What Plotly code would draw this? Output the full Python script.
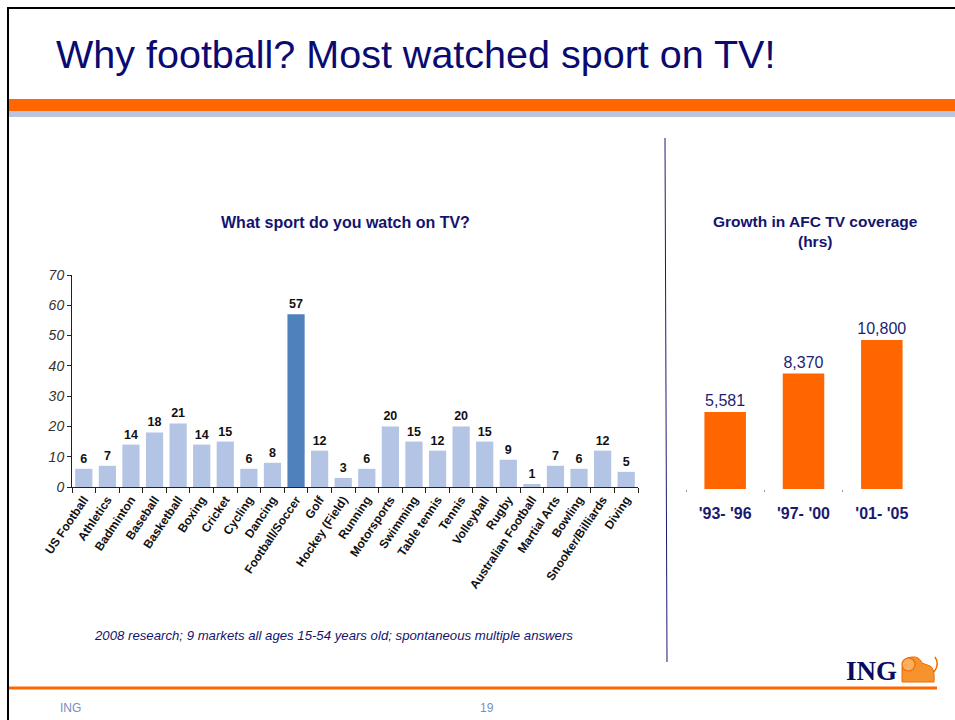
import plotly.graph_objects as go

# ---- data ----
sports = ["US Football", "Athletics", "Badminton", "Baseball", "Basketball", "Boxing",
          "Cricket", "Cycling", "Dancing", "Football/Soccer", "Golf", "Hockey (Field)",
          "Running", "Motorsports", "Swimming", "Table tennis", "Tennis", "Volleyball",
          "Rugby", "Australian Football", "Martial Arts", "Bowling", "Snooker/Billiards", "Diving"]
watch_share = [6, 7, 14, 18, 21, 14, 15, 6, 8, 57, 12, 3, 6, 20, 15, 12, 20, 15, 9, 1, 7, 6, 12, 5]
y_ticks_left = [0, 10, 20, 30, 40, 50, 60, 70]

periods = ["'93- '96", "'97- '00", "'01- '05"]
coverage_hrs = [5581, 8370, 10800]

W, H = 955, 720
def px(x): return x / W
def py(y): return (H - y) / H

LIGHT = "#b4c4e4"
DARK = "#4f81bd"
ORANGE = "#ff6600"

bar_colors = [DARK if s == "Football/Soccer" else LIGHT for s in sports]

fig = go.Figure()
fig.add_trace(go.Bar(
    x=sports, y=watch_share, marker_color=bar_colors, marker_line_width=0,
    text=watch_share, textposition="outside", cliponaxis=False, constraintext="none",
    textfont=dict(family="Liberation Sans, Arial", size=12.5, color="#111111", weight="bold"),
    xaxis="x", yaxis="y", showlegend=False, hoverinfo="x+y"))
fig.add_trace(go.Bar(
    x=periods, y=coverage_hrs, marker_color=ORANGE, marker_line_width=0,
    texttemplate="%{y:,}", textposition="outside", cliponaxis=False, constraintext="none",
    textfont=dict(family="Liberation Sans, Arial", size=16, color="#1e1e72"),
    xaxis="x2", yaxis="y2", showlegend=False, hoverinfo="x+y", width=0.53))

def P(x, y):
    return f"{px(x)},{py(y)}"

shapes = [
    # slide frame
    dict(type="line", xref="paper", yref="paper", x0=px(8), x1=px(955), y0=py(8), y1=py(8),
         line=dict(color="black", width=2)),
    dict(type="line", xref="paper", yref="paper", x0=px(8), x1=px(8), y0=py(7), y1=py(720),
         line=dict(color="black", width=2)),
    # header bands
    dict(type="rect", xref="paper", yref="paper", x0=px(9), x1=px(955), y0=py(99), y1=py(111),
         fillcolor=ORANGE, line_width=0),
    dict(type="rect", xref="paper", yref="paper", x0=px(9), x1=px(955), y0=py(111), y1=py(117),
         fillcolor="#b8c6e2", line_width=0),
    # divider
    dict(type="line", xref="paper", yref="paper", x0=px(665), x1=px(667), y0=py(138), y1=py(662),
         line=dict(color="#1a1a70", width=1)),
    # footer orange line
    dict(type="line", xref="paper", yref="paper", x0=px(9), x1=px(937), y0=py(688), y1=py(688),
         line=dict(color=ORANGE, width=3)),
    # lion (simplified): body
    dict(type="path", xref="paper", yref="paper",
         path=(f"M {P(902,682)} L {P(902,668)} Q {P(903,657)} {P(912,657)} "
               f"Q {P(919,656)} {P(922,663)} L {P(930,666)} Q {P(935,668)} {P(934,682)} Z"),
         fillcolor="#f7932e", line=dict(color="#ee6a00", width=1)),
    # mane / head
    dict(type="circle", xref="paper", yref="paper", x0=px(902), x1=px(915), y0=py(671), y1=py(658),
         fillcolor="#fbb060", line=dict(color="#ee6a00", width=1.2)),
    # tail
    dict(type="path", xref="paper", yref="paper",
         path=f"M {P(934,672)} Q {P(940,664)} {P(935,657)}",
         line=dict(color="#ee6a00", width=1.5)),
]

annotations = [
    dict(text="Why football? Most watched sport on TV!", x=px(54), y=py(54), xref="paper", yref="paper",
         xanchor="left", yanchor="middle", showarrow=False,
         font=dict(family="Liberation Sans, Arial", size=39.5, color="#0a0a70")),
    dict(text="<b>What sport do you watch on TV?</b>", x=px(345), y=py(222), xref="paper", yref="paper",
         xanchor="center", yanchor="middle", showarrow=False,
         font=dict(family="Liberation Sans, Arial", size=16, color="#14146e")),
    dict(text="<b>Growth in AFC TV coverage<br>(hrs)</b>", x=px(815), y=py(232), xref="paper", yref="paper",
         xanchor="center", yanchor="middle", showarrow=False,
         font=dict(family="Liberation Sans, Arial", size=15.5, color="#14146e")),
    dict(text="<i>2008 research; 9 markets all ages 15-54 years old; spontaneous multiple answers</i>",
         x=px(92), y=py(635), xref="paper", yref="paper", xanchor="left", yanchor="middle", showarrow=False,
         font=dict(family="Liberation Sans, Arial", size=13.2, color="#14146e")),
    dict(text="<b>ING</b>", x=px(899), y=py(671), xref="paper", yref="paper", xanchor="right", yanchor="middle",
         showarrow=False, font=dict(family="Liberation Serif, Times New Roman", size=27, color="#0a0a5e")),
    dict(text="ING", x=px(58), y=py(708), xref="paper", yref="paper", xanchor="left", yanchor="middle",
         showarrow=False, font=dict(family="Liberation Sans, Arial", size=12, color="#7b8cc4")),
    dict(text="19", x=px(487), y=py(708), xref="paper", yref="paper", xanchor="center", yanchor="middle",
         showarrow=False, font=dict(family="Liberation Sans, Arial", size=12, color="#7b8cc4")),
]

fig.update_layout(
    template="none",
    width=W, height=H, margin=dict(l=0, r=0, t=0, b=0, pad=0), autosize=False,
    paper_bgcolor="white", plot_bgcolor="white", bargap=0.27,
    shapes=shapes, annotations=annotations,
    xaxis=dict(domain=[px(72), px(638)], anchor="y", type="category", tickangle=-56, automargin=False,
               showline=True, linecolor="#222222", linewidth=1,
               ticks="outside", tickson="boundaries", ticklen=5, tickcolor="#222222",
               tickfont=dict(family="Liberation Sans, Arial", size=12, color="#111111", weight="bold"),
               showgrid=False, zeroline=False, fixedrange=True),
    yaxis=dict(domain=[py(487), py(275)], anchor="x", range=[0, 70], tickvals=y_ticks_left, automargin=False,
               showline=True, linecolor="#222222", linewidth=1,
               ticks="outside", ticklen=4, tickcolor="#222222",
               tickfont=dict(family="Liberation Sans, Arial", size=14, color="#333333", style="italic"),
               showgrid=False, zeroline=False, fixedrange=True),
    xaxis2=dict(domain=[px(686), px(921)], anchor="y2", type="category", automargin=False,
                showline=False, ticks="outside", tickson="boundaries", ticklen=2, tickcolor="#999999",
                ticklabelstandoff=13,
                tickfont=dict(family="Liberation Sans, Arial", size=16, color="#1a1a70", weight="bold"),
                showgrid=False, zeroline=False, fixedrange=True),
    yaxis2=dict(domain=[py(489), py(296)], anchor="x2", range=[0, 14000], visible=False, automargin=False,
                showgrid=False, zeroline=False, fixedrange=True),
)

fig.write_html("out.html", config={"displayModeBar": False},
               post_script="document.body.style.margin='0';document.body.style.padding='0';"
                           "document.body.style.overflow='hidden';")
